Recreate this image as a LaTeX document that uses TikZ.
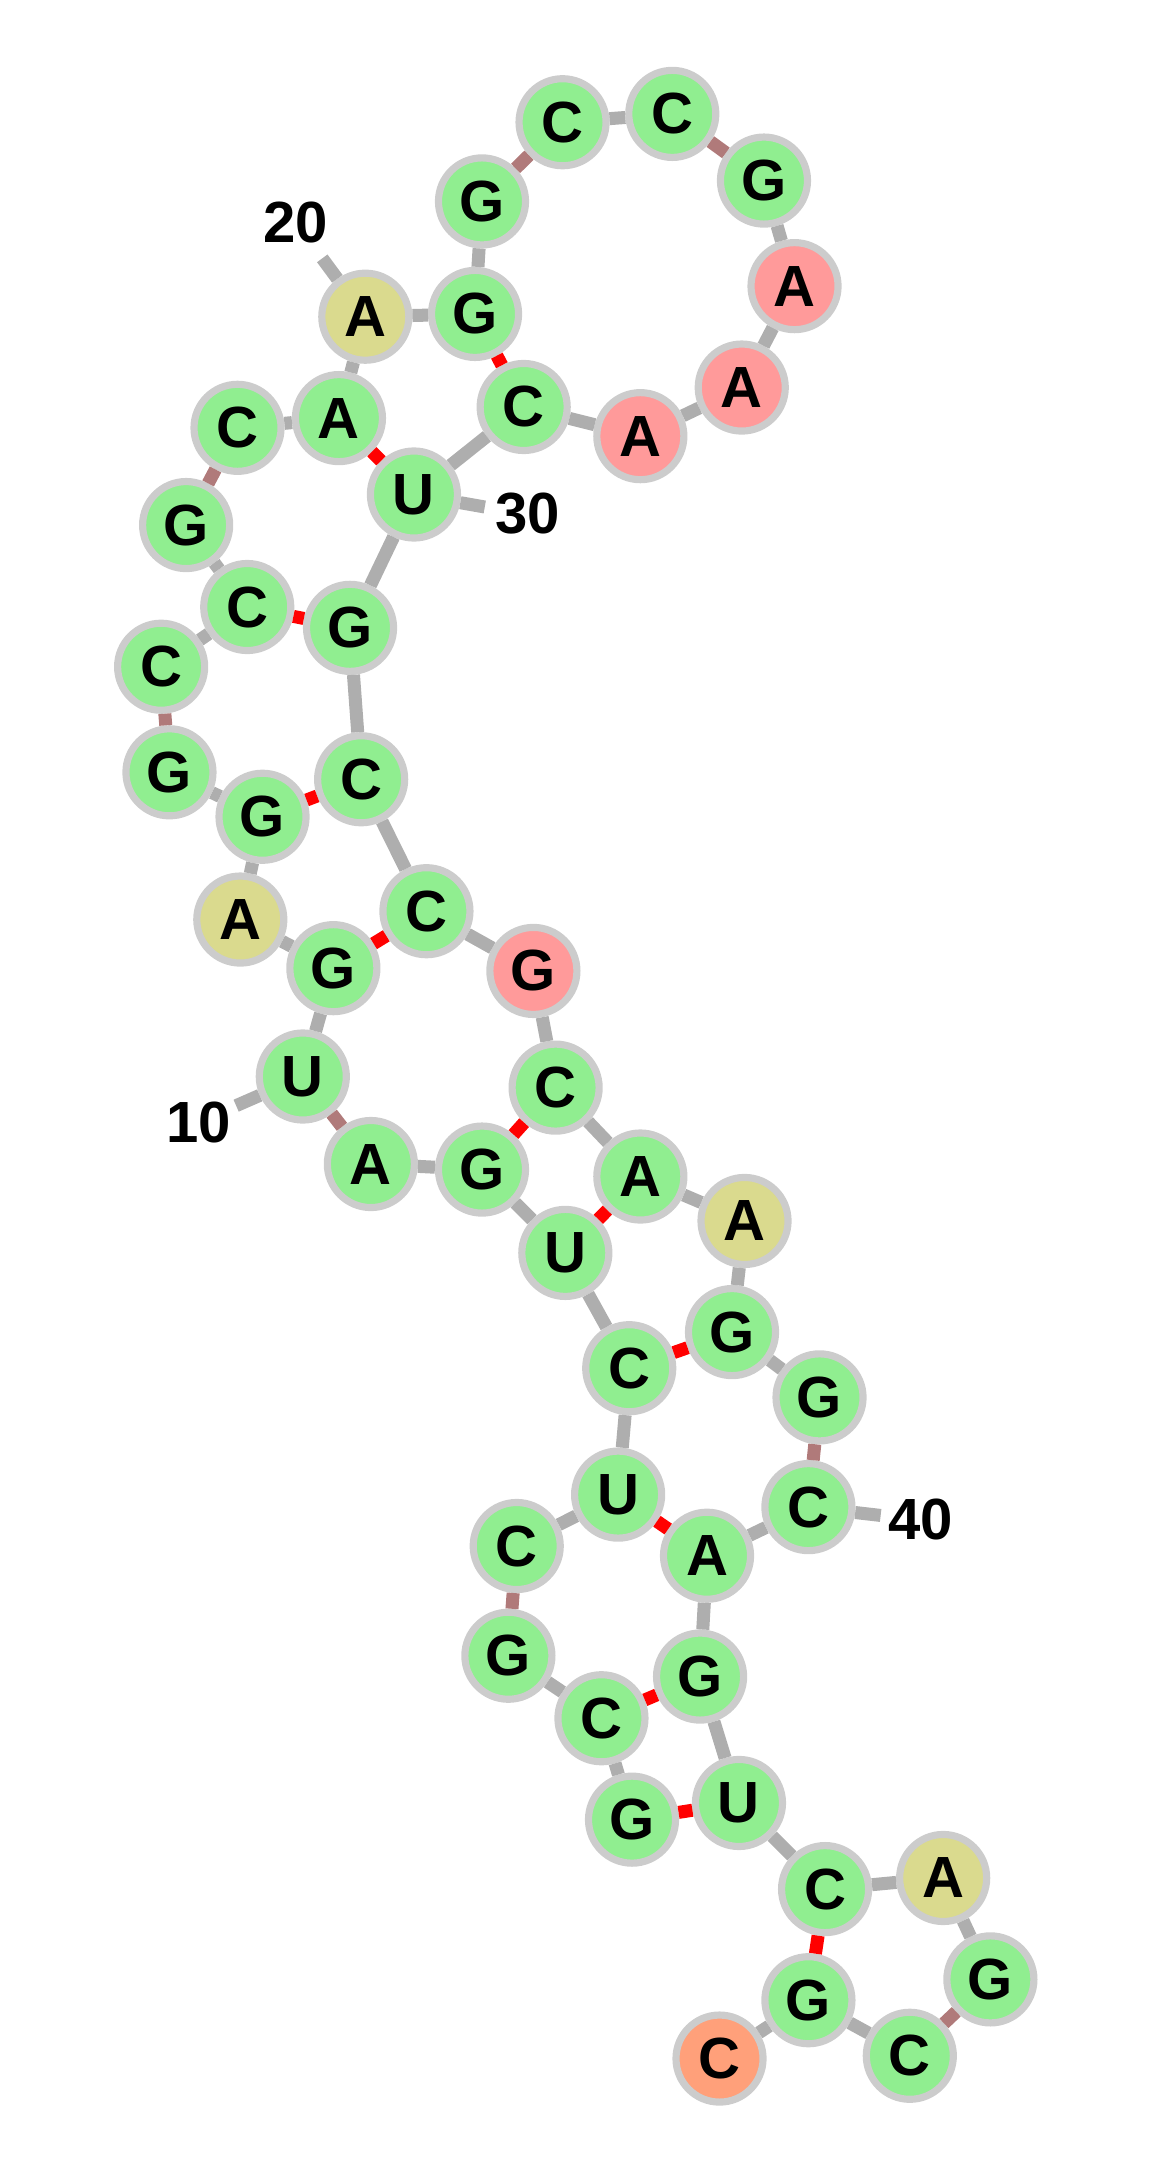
\documentclass[tikz,border=0pt]{standalone}
\usepackage{fontspec}
\setmainfont{Liberation Sans}
\usetikzlibrary{shapes,arrows}
\usetikzlibrary{calc}
\definecolor{ntgreen}{RGB}{144,238,144}
\definecolor{ntkhaki}{RGB}{218,218,142}
\definecolor{ntpink}{RGB}{255,154,154}
\definecolor{ntorange}{RGB}{255,160,122}
\definecolor{ringgray}{RGB}{204,204,204}
\definecolor{linegray}{RGB}{174,174,174}
\definecolor{linebrown}{RGB}{176,122,122}

\begin{document}
\begin{tikzpicture}[x=0.03cm, y=-0.03cm,
  nuc/.style={circle, draw=ringgray, line width=4.4pt, minimum size=53.5pt, inner sep=0pt, fill=ntgreen, font=\fontsize{35.7}{40}\selectfont\bfseries},
  bb/.style={draw=linegray, line width=8pt},
  bbl/.style={draw=linebrown, line width=8pt},
  bp/.style={draw=red, line width=8pt},
  num/.style={font=\fontsize{35.7}{40}\selectfont\bfseries}]
\useasboundingbox (0,0) rectangle (844,1568);

\node[nuc] (n1) at (455,1310) {G};
\node[nuc] (n2) at (433,1237) {C};
\node[nuc] (n3) at (366,1192) {G};
\node[nuc] (n4) at (372,1113) {C};
\node[nuc] (n5) at (445,1076) {U};
\node[nuc] (n6) at (453,985) {C};
\node[nuc] (n7) at (407,902) {U};
\node[nuc] (n8) at (347,842) {G};
\node[nuc] (n9) at (267,838) {A};
\node[nuc] (n10) at (218,775) {U};
\node[nuc] (n11) at (240,697) {G};
\node[nuc, fill=ntkhaki] (n12) at (173,662) {A};
\node[nuc] (n13) at (189,588) {G};
\node[nuc] (n14) at (122,556) {G};
\node[nuc] (n15) at (116,480) {C};
\node[nuc] (n16) at (178,437) {C};
\node[nuc] (n17) at (134,378) {G};
\node[nuc] (n18) at (171,308) {C};
\node[nuc] (n19) at (244,301) {A};
\node[nuc, fill=ntkhaki] (n20) at (263,228) {A};
\node[nuc] (n21) at (342,226) {G};
\node[nuc] (n22) at (347,145) {G};
\node[nuc] (n23) at (405,88) {C};
\node[nuc] (n24) at (484,82) {C};
\node[nuc] (n25) at (550,130) {G};
\node[nuc, fill=ntpink] (n26) at (572,206) {A};
\node[nuc, fill=ntpink] (n27) at (534,279) {A};
\node[nuc, fill=ntpink] (n28) at (461,314) {A};
\node[nuc] (n29) at (377,293) {C};
\node[nuc] (n30) at (298,356) {U};
\node[nuc] (n31) at (252,452) {G};
\node[nuc] (n32) at (260,561) {C};
\node[nuc] (n33) at (307,656) {C};
\node[nuc, fill=ntpink] (n34) at (384,699) {G};
\node[nuc] (n35) at (400,783) {C};
\node[nuc] (n36) at (461,847) {A};
\node[nuc, fill=ntkhaki] (n37) at (536,879) {A};
\node[nuc] (n38) at (527,959) {G};
\node[nuc] (n39) at (590,1006) {G};
\node[nuc] (n40) at (582,1085) {C};
\node[nuc] (n41) at (509,1120) {A};
\node[nuc] (n42) at (504,1207) {G};
\node[nuc] (n43) at (532,1298) {U};
\node[nuc] (n44) at (594,1360) {C};
\node[nuc, fill=ntkhaki] (n45) at (679,1352) {A};
\node[nuc] (n46) at (713,1425) {G};
\node[nuc] (n47) at (655,1480) {C};
\node[nuc] (n48) at (582,1440) {G};
\node[nuc, fill=ntorange] (n49) at (518,1482) {C};

% numbering
\node[num] (l10) at (143,808) {10};
\node[num] (l20) at (213,160) {20};
\node[num] (l30) at (380,370) {30};
\node[num] (l40) at (663,1094) {40};
\coordinate (t10) at (170,796);
\coordinate (t20) at (232,186);
\coordinate (t30) at (349,365);
\coordinate (t40) at (634,1091);
\draw[bb] (n10) edge (t10) (n20) edge (t20) (n30) edge (t30) (n40) edge (t40);

% backbone
\draw[bb]
  (n1) edge (n2) (n2) edge (n3) (n4) edge (n5) (n5) edge (n6)
  (n6) edge (n7) (n7) edge (n8) (n8) edge (n9) (n10) edge (n11)
  (n11) edge (n12) (n12) edge (n13) (n13) edge (n14) (n15) edge (n16)
  (n16) edge (n17) (n18) edge (n19) (n19) edge (n20) (n20) edge (n21)
  (n21) edge (n22) (n23) edge (n24) (n25) edge (n26) (n26) edge (n27)
  (n27) edge (n28) (n28) edge (n29) (n29) edge (n30) (n30) edge (n31)
  (n31) edge (n32) (n32) edge (n33) (n33) edge (n34) (n34) edge (n35)
  (n35) edge (n36) (n36) edge (n37) (n37) edge (n38) (n38) edge (n39)
  (n40) edge (n41) (n41) edge (n42) (n42) edge (n43) (n43) edge (n44)
  (n44) edge (n45) (n45) edge (n46) (n47) edge (n48) (n48) edge (n49);
\draw[bbl]
  (n3) edge (n4) (n9) edge (n10) (n14) edge (n15) (n17) edge (n18)
  (n22) edge (n23) (n24) edge (n25) (n39) edge (n40) (n46) edge (n47);

% pairs
\draw[bp]
  (n1) edge (n43) (n2) edge (n42) (n5) edge (n41) (n6) edge (n38)
  (n7) edge (n36) (n8) edge (n35) (n11) edge (n33) (n13) edge (n32)
  (n16) edge (n31) (n19) edge (n30) (n21) edge (n29) (n44) edge (n48);
\end{tikzpicture}
\end{document}
